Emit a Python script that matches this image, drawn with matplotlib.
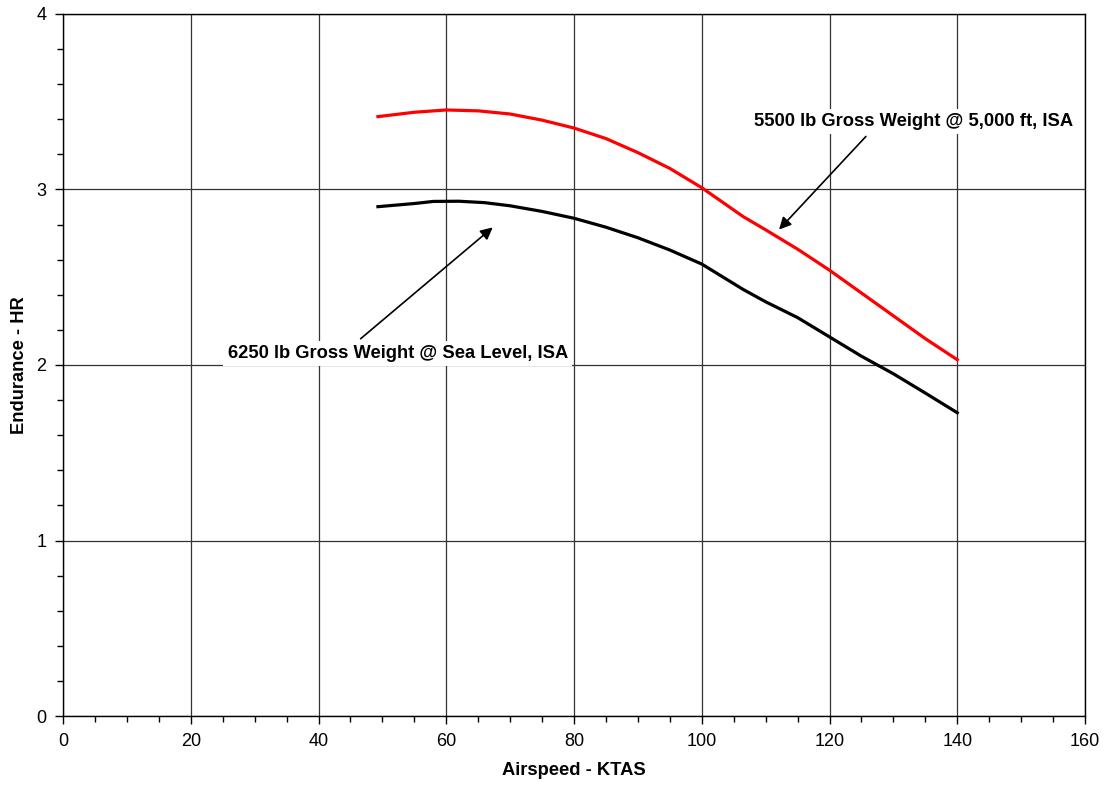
import numpy as np
import matplotlib.pyplot as plt
from matplotlib.ticker import MultipleLocator

plt.rcParams["font.family"] = ["Liberation Sans", "DejaVu Sans"]

# endurance vs true airspeed, two weight/altitude cases
ktas_5500 = [49.3, 55, 60, 65, 70, 75, 80, 85, 90, 95, 100, 106.5, 110, 115, 120, 125, 130, 135, 140]
hr_5500 = [3.415, 3.44, 3.453, 3.448, 3.43, 3.395, 3.35, 3.29, 3.21, 3.12, 3.01, 2.845, 2.77, 2.66, 2.54,
           2.41, 2.28, 2.15, 2.03]

ktas_6250 = [49.3, 55, 58, 62, 66, 70, 75, 80, 85, 90, 95, 100, 106.5, 110, 115, 120, 125, 130, 135, 140]
hr_6250 = [2.902, 2.92, 2.932, 2.933, 2.925, 2.907, 2.875, 2.836, 2.785, 2.725, 2.655, 2.575, 2.43, 2.36,
           2.27, 2.16, 2.05, 1.95, 1.84, 1.728]

label_5500 = "5500 lb Gross Weight @ 5,000 ft, ISA"
label_6250 = "6250 lb Gross Weight @ Sea Level, ISA"

fig = plt.figure(figsize=(11.04, 7.89), dpi=100)
ax = fig.add_axes([0.0571, 0.0925, 0.9257, 0.8898])

ax.plot(ktas_5500, hr_5500, color="#ff0000", lw=2.3, zorder=3)
ax.plot(ktas_6250, hr_6250, color="black", lw=2.3, zorder=3)

ax.set_xlim(0, 160)
ax.set_ylim(0, 4)
ax.xaxis.set_major_locator(MultipleLocator(20))
ax.xaxis.set_minor_locator(MultipleLocator(5))
ax.yaxis.set_major_locator(MultipleLocator(1))
ax.yaxis.set_minor_locator(MultipleLocator(0.2))
ax.tick_params(which="major", length=6, width=1, labelsize=13, direction="out", pad=6)
ax.tick_params(which="minor", length=4, width=1, direction="out")
ax.grid(which="major", color="#333333", lw=0.9)
for s in ax.spines.values():
    s.set_linewidth(1)
    s.set_color("black")

ax.set_xlabel("Airspeed - KTAS", fontsize=13.2, fontweight="bold", labelpad=9)
ax.set_ylabel("Endurance - HR", fontsize=13.2, fontweight="bold")
ax.yaxis.set_label_coords(-0.034, 0.5)

box = dict(facecolor="white", edgecolor="none", pad=3)
ax.annotate(label_5500, xy=(111.8, 2.76), xytext=(133.1, 3.386), ha="center", va="center",
            fontsize=13.2, fontweight="bold", bbox=box, zorder=4,
            arrowprops=dict(arrowstyle="-|>", color="black", lw=1.2, mutation_scale=18,
                            relpos=(0.37, 0.0)))
ax.annotate(label_6250, xy=(67.6, 2.794), xytext=(52.4, 2.067), ha="center", va="center",
            fontsize=13.2, fontweight="bold", bbox=box, zorder=4,
            arrowprops=dict(arrowstyle="-|>", color="black", lw=1.2, mutation_scale=18,
                            relpos=(0.37, 1.0)))

fig.savefig("out.png", dpi=100)
